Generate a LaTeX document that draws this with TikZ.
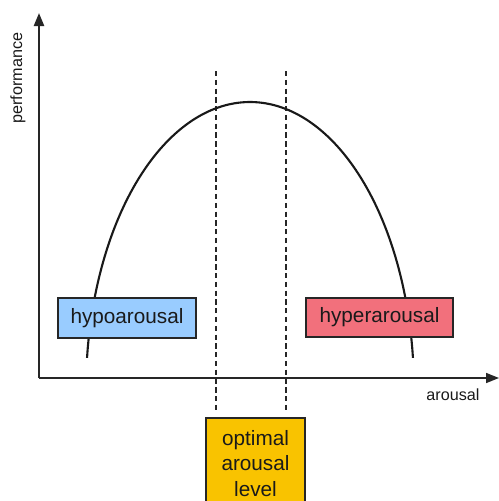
\documentclass[tikz,border=0pt]{standalone}
\usepackage{fontspec}
\setmainfont{Liberation Sans}
\usepackage{tikz}
\usetikzlibrary{arrows.meta,positioning}
\definecolor{hypoblue}{HTML}{99CCFF}
\definecolor{hyperred}{HTML}{F2707C}
\definecolor{optgold}{HTML}{F9C300}
\definecolor{txtgray}{HTML}{1A1A1A}
\tikzset{
  blk/.style={draw=black!85, line width=.9pt, align=center, inner sep=0pt, text=txtgray, font=\fontsize{11.8}{14.6}\selectfont},
  blkb/.style={blk, fill=hypoblue},
  blkr/.style={blk, fill=hyperred},
  blky/.style={blk, fill=optgold},
  ax/.style={-{Triangle[length=2.6mm,width=2mm]}, draw=black!85},
  dsh/.style={draw=black!85, line width=.9pt, dash pattern=on 3pt off 2pt},
  lbl/.style={font=\fontsize{9.2}{10}\selectfont, text=txtgray},
}
\begin{document}
\begin{tikzpicture}[x=0.02cm,y=-0.02cm]
    \useasboundingbox (0,0) rectangle (499,501);
    \fill[white] (0,0) rectangle (499,501);
    % axes
    \coordinate (o) at (39,378);
    \coordinate (ytip) at (39,13);
    \coordinate (xtip) at (499,378);
    \draw[ax, line width=1.3pt] (o) -- (ytip);
    \draw[ax, line width=.9pt] (o) -- (xtip);
    \node[lbl, rotate=90] (perf) at (18,78) {performance};
    \node[lbl] (arou) at (453,395) {arousal};

    % optimal band
    \coordinate (d1t) at (216,71);
    \coordinate (d1b) at (216,410);
    \coordinate (d2t) at (286,71);
    \coordinate (d2b) at (286,410);
    \draw[dsh] (d1t) -- (d1b);
    \draw[dsh] (d2t) -- (d2b);

    % inverted U
    \draw[line width=1.2pt, draw=black!90, domain=6.4:173.6, samples=80, smooth]
      plot ({250+164*cos(\x)},{390-288*sin(\x)});

    \node[blkb, minimum width=138*0.02cm, minimum height=40*0.02cm] (hypo) at (127,318) {hypoarousal};
    \node[blkr, minimum width=147*0.02cm, minimum height=39*0.02cm] (hyper) at (379.5,317.5) {hyperarousal};
    \node[blky, minimum width=99*0.02cm, minimum height=91*0.02cm, anchor=north] (opt) at (255.5,417) {optimal\\arousal\\level};
\end{tikzpicture}
\end{document}
